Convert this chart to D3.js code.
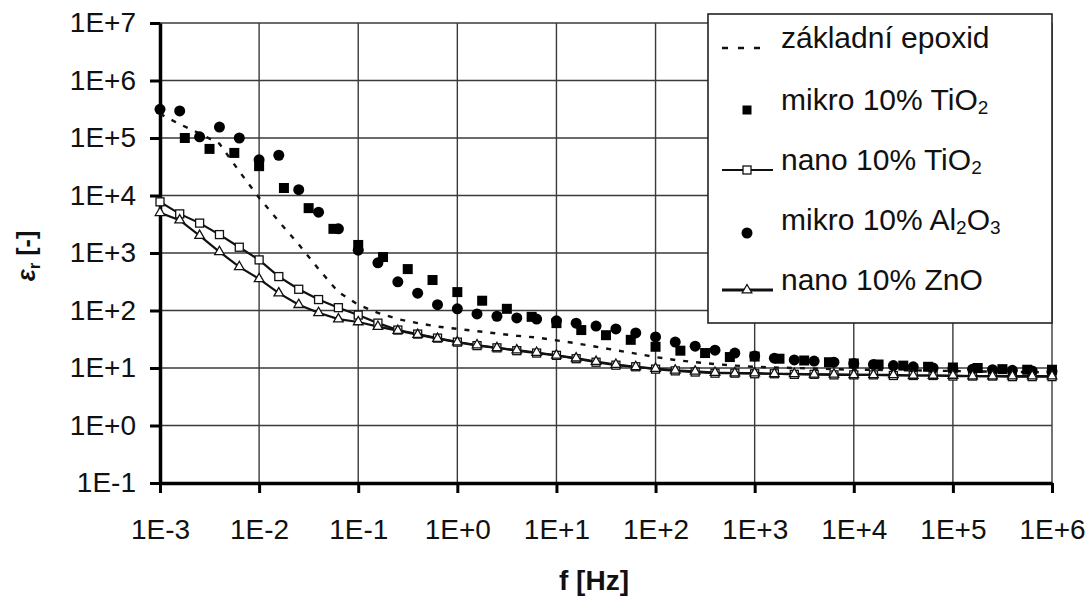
<!DOCTYPE html>
<html><head><meta charset="utf-8">
<script src="https://cdn.jsdelivr.net/npm/d3@7"></script>
<style>
html,body{margin:0;padding:0;background:#fff;}
svg{display:block;font-family:"Liberation Sans",Arial,sans-serif;}
</style></head>
<body><svg id="c" width="1092" height="598"></svg>
<script>
// ---- data ----
const xTicks = [1e-3,1e-2,1e-1,1e0,1e1,1e2,1e3,1e4,1e5,1e6];
const xTickLabels = ["1E-3","1E-2","1E-1","1E+0","1E+1","1E+2","1E+3","1E+4","1E+5","1E+6"];
const yTicks = [1e-1,1e0,1e1,1e2,1e3,1e4,1e5,1e6,1e7];
const yTickLabels = ["1E-1","1E+0","1E+1","1E+2","1E+3","1E+4","1E+5","1E+6","1E+7"];
const seriesNames = ["základní epoxid","mikro 10% TiO2","nano 10% TiO2","mikro 10% Al2O3","nano 10% ZnO"];
const xLabel = "f [Hz]";

// frequency grid, 5 points per decade (1E-3 ... 1E+6)
const freq5 = [0.001,0.00158,0.00251,0.00398,0.00631,
  0.01,0.0158,0.0251,0.0398,0.0631, 0.1,0.158,0.251,0.398,0.631,
  1,1.58,2.51,3.98,6.31, 10,15.8,25.1,39.8,63.1, 100,158,251,398,631,
  1000,1580,2510,3980,6310, 1e4,15800,25100,39800,63100,
  1e5,158000,251000,398000,631000, 1e6];
// frequency grid, 4 points per decade for mikro TiO2
const freqMikroTiO2 = [0.00178,0.00316,0.00562,0.01,0.0178,0.0316,0.0562,0.1,
  0.178,0.316,0.562,1,1.78,3.16,5.62,10,17.8,31.6,56.2,100,178,316,562,1000,
  1780,3160,5620,1e4,17800,31600,56200,1e5,178000,316000,562000,1e6];

const epsEpoxid = [263000,174000,120000,79400,26300, 9120,3550,1410,525,209,
  126,91.2,70.8,60.3,52.5, 47.9,43.7,39.8,36.3,33.9, 30.2,26.9,23.4,20.4,17.8,
  15.5,13.8,12.6,11.7,11.0, 10.5,10.2,10.0,9.77,9.55, 9.33,9.33,9.12,9.12,8.91,
  8.91,8.71,8.71,8.51,8.51, 8.32];
const epsMikroTiO2 = [100000,64600,55000,32400,13500,6030,2630,1380,
  851,525,339,209,148,107,77.6,60.3,45.7,37.2,30.9,23.4,20.0,18.2,15.5,15.8,
  14.5,13.5,12.6,12.0,11.5,11.0,10.5,10.2,10.0,9.55,9.33,9.33];
const epsNanoTiO2 = [7760,4790,3310,2090,1260, 759,389,234,155,112,
  83.2,60.3,45.7,38.9,33.1, 28.2,24.5,22.4,20.0,18.2, 16.6,14.5,12.6,11.2,10.5,
  9.55,8.91,8.51,8.13,8.13, 7.94,7.94,7.76,7.76,7.59, 7.59,7.59,7.41,7.41,7.41,
  7.24,7.24,7.24,7.08,7.08, 7.08];
const epsMikroAl2O3 = [316000,295000,105000,155000,100000, 41700,50100,12600,5130,2630,
  1120,676,316,200,126, 107,87.1,79.4,74.1,70.8, 66.1,60.3,53.7,47.9,40.7,
  34.7,28.2,24.0,20.4,18.2, 16.2,14.8,13.8,13.2,12.6, 12.0,11.5,11.0,10.5,10.0,
  9.77,9.55,9.33,9.12,8.91, 8.71];
const epsNanoZnO = [5010,3720,2000,1050,575, 355,200,126,91.2,70.8,
  63.1,52.5,44.7,38.0,32.4, 28.2,25.1,22.4,20.4,18.6, 16.6,14.8,12.9,11.5,10.5,
  9.77,9.12,8.71,8.32,8.13, 8.13,7.94,7.94,7.76,7.76, 7.59,7.59,7.59,7.41,7.41,
  7.41,7.24,7.24,7.24,7.24, 7.24];

// ---- chart ----
const svg = d3.select("#c");
const X0=160, X1=1052, Y0=483, Y1=23;
const x = d3.scaleLog().domain([1e-3,1e6]).range([X0,X1]);
const y = d3.scaleLog().domain([1e-1,1e7]).range([Y0,Y1]);
const FS = 28;

// grid
const grid = svg.append("g").attr("stroke","#3a3a3a").attr("stroke-width",1.4);
grid.selectAll("line.v").data(xTicks).join("line")
  .attr("x1",d=>x(d)).attr("x2",d=>x(d)).attr("y1",Y0).attr("y2",Y1);
grid.selectAll("line.h").data(yTicks).join("line")
  .attr("y1",d=>y(d)).attr("y2",d=>y(d)).attr("x1",X0).attr("x2",X1);

// axes
const ax = svg.append("g").attr("transform",`translate(0,${Y0})`)
  .call(d3.axisBottom(x).tickValues(xTicks).tickSize(10).tickSizeOuter(0).tickPadding(26)
    .tickFormat((d,i)=>xTickLabels[i]));
const ay = svg.append("g").attr("transform",`translate(${X0},0)`)
  .call(d3.axisLeft(y).tickValues(yTicks).tickSize(10).tickSizeOuter(0).tickPadding(14)
    .tickFormat((d,i)=>yTickLabels[i]));
[ax,ay].forEach(g=>{
  g.select(".domain").attr("stroke","#000").attr("stroke-width",3.5);
  g.selectAll(".tick line").attr("stroke","#000").attr("stroke-width",3);
  g.selectAll(".tick text").attr("font-size",FS).attr("fill","#111")
    .attr("font-family","'Liberation Sans',Arial,sans-serif");
});

// axis titles
svg.append("text").attr("x",594).attr("y",590).attr("text-anchor","middle")
  .attr("font-size",28).attr("font-weight","bold").attr("fill","#111").text(xLabel);
const yt = svg.append("text").attr("transform","translate(35,256) rotate(-90)")
  .attr("text-anchor","middle").attr("font-size",25).attr("font-weight","bold").attr("fill","#111");
yt.append("tspan").attr("font-style","italic").text("ε");
yt.append("tspan").attr("font-size",17).attr("dy",5).text("r");
yt.append("tspan").attr("dy",-5).text(" [-]");

// series
const pts = (fx,ey)=>fx.map((f,i)=>[f,ey[i]]);
const line = d3.line().x(d=>x(d[0])).y(d=>y(d[1]));
const plot = svg.append("g");

// epoxid dashed
plot.append("path").datum(pts(freq5,epsEpoxid)).attr("d",line)
  .attr("fill","none").attr("stroke","#111").attr("stroke-width",2.4).attr("stroke-dasharray","5,8");

// nano lines
plot.append("path").datum(pts(freq5,epsNanoTiO2)).attr("d",line)
  .attr("fill","none").attr("stroke","#111").attr("stroke-width",2.2);
plot.append("path").datum(pts(freq5,epsNanoZnO)).attr("d",line)
  .attr("fill","none").attr("stroke","#111").attr("stroke-width",2.2);

// mikro TiO2 squares
plot.append("g").selectAll("rect").data(pts(freqMikroTiO2,epsMikroTiO2)).join("rect")
  .attr("x",d=>x(d[0])-5).attr("y",d=>y(d[1])-5).attr("width",10).attr("height",10).attr("fill","#000");
// nano TiO2 open squares
plot.append("g").selectAll("rect").data(pts(freq5,epsNanoTiO2)).join("rect")
  .attr("x",d=>x(d[0])-4).attr("y",d=>y(d[1])-4).attr("width",8).attr("height",8)
  .attr("fill","#fff").attr("stroke","#111").attr("stroke-width",1.3);
// mikro Al2O3 circles
plot.append("g").selectAll("circle").data(pts(freq5,epsMikroAl2O3)).join("circle")
  .attr("cx",d=>x(d[0])).attr("cy",d=>y(d[1])).attr("r",5.5).attr("fill","#000");
// nano ZnO open triangles
const tri = d3.symbol().type(d3.symbolTriangle).size(40);
plot.append("g").selectAll("path").data(pts(freq5,epsNanoZnO)).join("path")
  .attr("d",tri).attr("transform",d=>`translate(${x(d[0])},${y(d[1])})`)
  .attr("fill","#fff").attr("stroke","#111").attr("stroke-width",1.3);

// legend
const lg = svg.append("g");
lg.append("rect").attr("x",708).attr("y",14).attr("width",344).attr("height",309)
  .attr("fill","#fff").attr("stroke","#222").attr("stroke-width",1.6);
const ly = [48,110,170,230,290];
const lx0=722, lx1=773, lxm=747, ltx=781;
const LFS = 30;
function richText(sel,str){
  const parts = str.split(/(?<=[A-Za-z])(\d)/);
  parts.forEach((p,i)=>{
    if(i%2===1) sel.append("tspan").attr("font-size",19).attr("dy",4).text(p);
    else if(p.length) sel.append("tspan").attr("dy",i>0?-4:0).text(p);
  });
}
seriesNames.forEach((name,i)=>{
  const t = lg.append("text").attr("x",ltx).attr("y",ly[i]).attr("dy","0.35em")
    .attr("font-size",LFS).attr("fill","#111");
  richText(t,name);
});
// legend symbols
lg.append("line").attr("x1",lx0).attr("x2",lx0+44).attr("y1",ly[0]).attr("y2",ly[0])
  .attr("stroke","#111").attr("stroke-width",2.4).attr("stroke-dasharray","6,10");
lg.append("rect").attr("x",lxm-4.5).attr("y",ly[1]-4.5).attr("width",9).attr("height",9).attr("fill","#000");
lg.append("line").attr("x1",lx0).attr("x2",lx1).attr("y1",ly[2]).attr("y2",ly[2]).attr("stroke","#111").attr("stroke-width",2.2);
lg.append("rect").attr("x",lxm-4).attr("y",ly[2]-4).attr("width",8).attr("height",8)
  .attr("fill","#fff").attr("stroke","#111").attr("stroke-width",1.3);
lg.append("circle").attr("cx",lxm).attr("cy",ly[3]+3).attr("r",5.5).attr("fill","#000");
lg.append("line").attr("x1",lx0).attr("x2",lx1).attr("y1",ly[4]).attr("y2",ly[4]).attr("stroke","#111").attr("stroke-width",2.8);
lg.append("path").attr("d",tri).attr("transform",`translate(${lxm},${ly[4]})`)
  .attr("fill","#fff").attr("stroke","#111").attr("stroke-width",1.3);
</script></body></html>
